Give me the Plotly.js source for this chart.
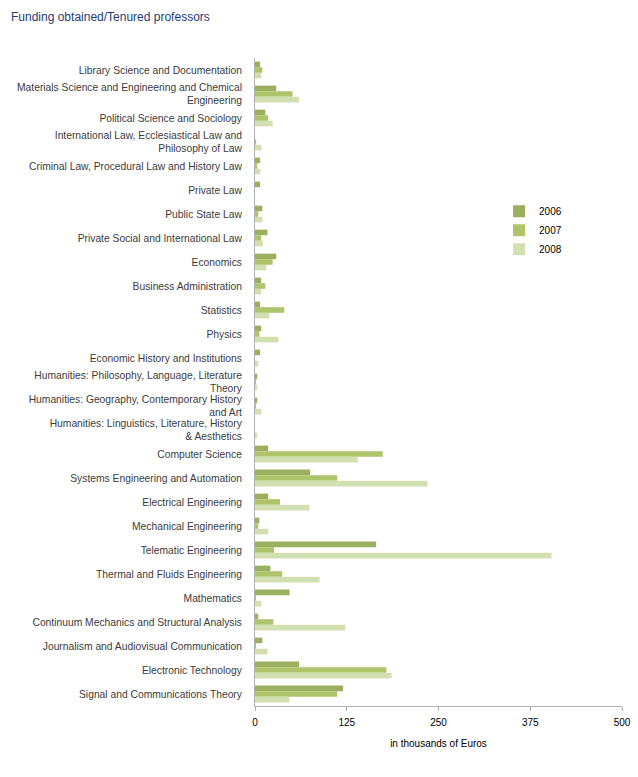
<!DOCTYPE html>
<html>
<head>
<meta charset="utf-8">
<script src="https://cdn.plot.ly/plotly-3.0.1.min.js"></script>
<style>
  html, body { margin: 0; padding: 0; background: #fff; }
  #chart { width: 638px; height: 777px; }
</style>
</head>
<body>
<div id="chart"></div>
<script>
// ── Data (top to bottom, thousands of Euros) ──────────────────
const CATEGORIES = [
  "Library Science and Documentation",
  "Materials Science and Engineering and Chemical<br>Engineering",
  "Political Science and Sociology",
  "International Law, Ecclesiastical Law and<br>Philosophy of Law",
  "Criminal Law, Procedural Law and History Law",
  "Private Law",
  "Public State Law",
  "Private Social and International Law",
  "Economics",
  "Business Administration",
  "Statistics",
  "Physics",
  "Economic History and Institutions",
  "Humanities: Philosophy, Language, Literature<br>Theory",
  "Humanities: Geography, Contemporary History<br>and Art",
  "Humanities: Linguistics, Literature, History<br>& Aesthetics",
  "Computer Science",
  "Systems Engineering and Automation",
  "Electrical Engineering",
  "Mechanical Engineering",
  "Telematic Engineering",
  "Thermal and Fluids Engineering",
  "Mathematics",
  "Continuum Mechanics and Structural Analysis",
  "Journalism and Audiovisual Communication",
  "Electronic Technology",
  "Signal and Communications Theory",
];

const VALUES_2006 = [7, 29, 14, 0, 7, 7, 10, 17, 29, 8.5, 7, 8.5, 7, 3, 3, 0, 18, 75, 18, 6, 165, 21, 47, 4.5, 10, 60, 120];
const VALUES_2007 = [10, 51, 18, 1.5, 3, 0, 4.5, 8.5, 24, 14, 40, 6, 0, 1.5, 1.5, 0, 174, 112, 34, 4.5, 26, 37, 1.5, 25, 1.5, 179, 112];
const VALUES_2008 = [8.5, 60, 24, 9, 7, 0, 10, 11, 15.5, 8.5, 19.5, 32, 4.5, 3, 8.5, 3, 140, 235, 74, 18, 404, 88, 8.5, 123, 17, 186, 47];

const YEARS = ["2006", "2007", "2008"];
const COLORS = ["#9bb05f", "#aec46b", "#d2dfb0"];
const X_TICKS = [0, 125, 250, 375, 500];

const FONT = "Liberation Sans, Arial, sans-serif";

// ── Traces ────────────────────────────────────────────────────
const series = [VALUES_2006, VALUES_2007, VALUES_2008];
const traces = series.map((vals, i) => ({
  name: YEARS[i],
  type: "bar",
  orientation: "h",
  x: vals,
  y: CATEGORIES,
  marker: { color: COLORS[i], line: { width: 0 } },
  hoverinfo: "x+y",
}));

// ── Layout ────────────────────────────────────────────────────
const layout = {
  width: 638,
  height: 777,
  paper_bgcolor: "#fff",
  plot_bgcolor: "#fff",
  margin: { l: 255, r: 16, t: 58, b: 71 },
  font: { family: FONT, size: 10, color: "#404040" },
  title: {
    text: "Funding obtained/Tenured professors",
    font: { family: FONT, size: 12, color: "#1f3c78" },
    xref: "container", x: 11 / 638, xanchor: "left",
    yref: "container", y: 1 - 17 / 777, yanchor: "middle",
  },
  barmode: "group",
  bargap: 0.3,
  bargroupgap: 0,
  showlegend: true,
  legend: {
    x: 0.665, xanchor: "left",
    y: 0.786, yanchor: "top",
    font: { family: FONT, size: 10, color: "#000" },
    bgcolor: "rgba(0,0,0,0)",
    traceorder: "normal",
  },
  xaxis: {
    range: [0, 500],
    tickvals: X_TICKS,
    ticktext: X_TICKS.map(String),
    showgrid: false,
    zeroline: false,
    showline: true,
    linecolor: "#b0b0b0",
    linewidth: 1,
    ticks: "outside",
    ticklen: 4,
    tickcolor: "#b0b0b0",
    ticklabelstandoff: 3,
    tickfont: { family: FONT, size: 10, color: "#000" },
    title: {
      text: "in thousands of Euros",
      font: { family: FONT, size: 10, color: "#000" },
      standoff: 12,
    },
    fixedrange: true,
  },
  yaxis: {
    type: "category",
    autorange: "reversed",
    showgrid: false,
    zeroline: false,
    showline: true,
    linecolor: "#b0b0b0",
    linewidth: 1,
    ticks: "",
    ticklabelstandoff: 10,
    tickfont: { family: FONT, size: 10.3, color: "#3c3c3c" },
    automargin: false,
    fixedrange: true,
  },
};

Plotly.newPlot("chart", traces, layout, { displayModeBar: false, staticPlot: true });
</script>
</body>
</html>
